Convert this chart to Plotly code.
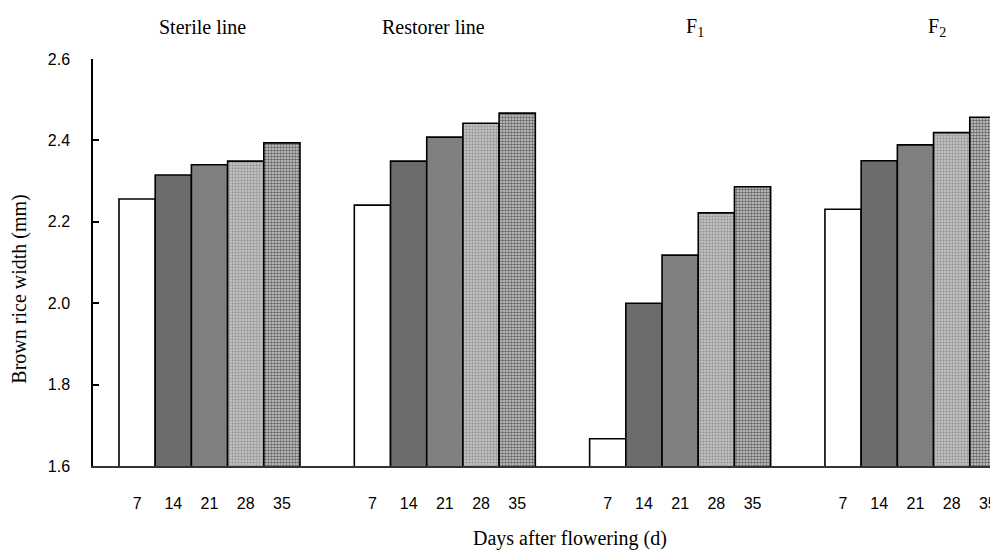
import plotly.graph_objects as go

groups = ["Sterile line", "Restorer line", "F<sub>1</sub>", "F<sub>2</sub>"]
days = ["7", "14", "21", "28", "35"]
sterile = [2.256, 2.315, 2.340, 2.349, 2.394]
restorer = [2.241, 2.349, 2.408, 2.442, 2.467]
f1 = [1.667, 2.000, 2.118, 2.222, 2.286]
f2 = [2.231, 2.350, 2.389, 2.419, 2.457]

series = [sterile, restorer, f1, f2]
GROUP_STEP = 6.5  # slots between group starts (5 bars + 1.5 slot gap)

fills = [
    dict(color="#ffffff"),
    dict(color="#6c6c6c"),
    dict(color="#808080"),
    dict(color="#b4b4b4", pattern=dict(shape=".", fgcolor="#6a6a6a", bgcolor="#c8c8c8", size=3, solidity=0.5)),
    dict(color="#9a9a9a", pattern=dict(shape=".", fgcolor="#000000", bgcolor="#d0d0d0", size=3, solidity=0.55)),
]

fig = go.Figure()
for k, d in enumerate(days):
    xs = [g * GROUP_STEP + k for g in range(len(groups))]
    ys = [s[k] for s in series]
    fig.add_trace(go.Bar(
        x=xs, y=ys, width=1, name=d,
        marker=dict(**fills[k], line=dict(color="black", width=1.6)),
        showlegend=False,
    ))

tickvals = [g * GROUP_STEP + k for g in range(len(groups)) for k in range(len(days))]
ticktext = [d for g in range(len(groups)) for d in days]

# page body has an 8px margin, so the figure is offset by 8px
fig.update_layout(
    width=990, height=544,
    margin=dict(l=85, r=0, t=51, b=86),
    plot_bgcolor="white", paper_bgcolor="white",
    barmode="overlay",
    font=dict(family="Liberation Sans, Arial", size=16, color="black"),
    xaxis=dict(
        range=[-1.218, 23.78], tickmode="array", tickvals=tickvals, ticktext=ticktext,
        showline=True, linecolor="#333333", linewidth=1.5, ticks="", showgrid=False,
        zeroline=False, ticklabelstandoff=22,
        tickfont=dict(family="Liberation Sans, Arial", size=16),
    ),
    yaxis=dict(
        range=[1.6, 2.6], tickvals=[1.6, 1.8, 2.0, 2.2, 2.4, 2.6],
        ticktext=["1.6", "1.8", "2.0", "2.2", "2.4", "2.6"],
        showline=True, linecolor="black", linewidth=1.5, ticks="inside", ticklen=6,
        tickwidth=1.5, tickcolor="black", showgrid=False, zeroline=False,
        ticklabelstandoff=18,
        tickfont=dict(family="Liberation Sans, Arial", size=16),
    ),
)

serif = dict(family="Liberation Serif, Times New Roman", size=20, color="black")
label_x = [1.8, 8.2, 15.4, 22.1]
for g, name in enumerate(groups):
    fig.add_annotation(x=label_x[g], y=1.0786, xref="x", yref="paper", text=name,
                       showarrow=False, font=serif, xanchor="center", yanchor="middle")

fig.add_annotation(x=0.527, y=-0.177, xref="paper", yref="paper", text="Days after flowering (d)",
                   showarrow=False, font=serif, xanchor="center", yanchor="middle")
fig.add_annotation(x=-0.081, y=0.435, xref="paper", yref="paper", text="Brown rice width (mm)",
                   textangle=-90, showarrow=False, font=serif, xanchor="center", yanchor="middle")

fig.write_html("out.html")
